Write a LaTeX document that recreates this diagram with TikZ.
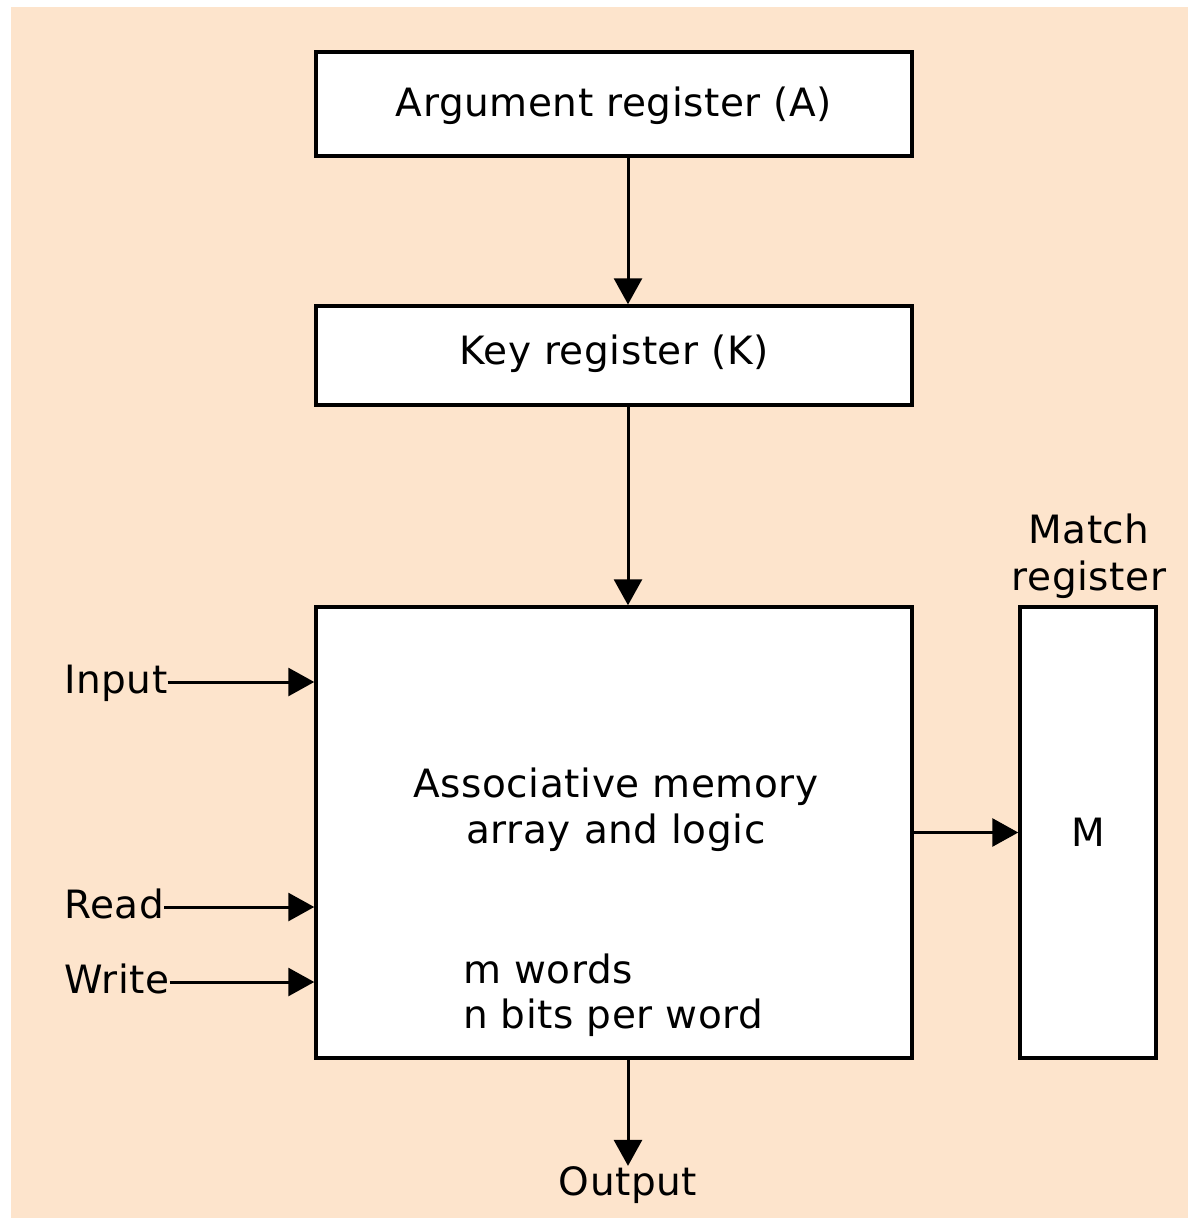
\documentclass[tikz,border=0pt]{standalone}
\usepackage{fontspec}
\setmainfont[LetterSpace=1.5]{DejaVu Sans}
\usetikzlibrary{arrows.meta}
\definecolor{peach}{RGB}{253,228,204}
\begin{document}
\begin{tikzpicture}[x=1pt,y=-1pt,
  every node/.style={inner sep=0pt, font=\fontsize{39}{47}\selectfont},
  box/.style={draw, line width=3.5pt, fill=white, minimum width=596pt},
  lbl/.style={anchor=base},
  arr/.style={line width=3pt, -{Triangle[length=26pt,width=28pt]}}]
  % page and background panel
  \useasboundingbox (0,0) rectangle (1192,1218);
  \fill[peach] (11,7) rectangle (1188,1218);

  % registers and memory array
  \node[box, minimum height=104pt] (arg) at (614,104) {};
  \node[lbl] (argt) at (614,116) {Argument register (A)};
  \node[box, minimum height=99pt] (key) at (614,355.5) {};
  \node[lbl] (keyt) at (614,364) {Key register (K)};
  \node[box, minimum height=451pt] (mem) at (614,832.5) {};
  \node[box, minimum width=136pt, minimum height=451pt] (match) at (1088,832.5) {};
  \node (mt) at (1088,832) {M};

  % text inside the memory array
  \node[lbl] (am1) at (616,797) {Associative memory};
  \node[lbl] (am2) at (616,843) {array and logic};
  \node[lbl, anchor=base west] (mw) at (463,983) {m words};
  \node[lbl, anchor=base west] (nb) at (463,1028) {n bits per word};

  % match register caption
  \node[lbl] (mc1) at (1089,543) {Match};
  \node[lbl] (mc2) at (1089,590) {register};

  % control inputs
  \node[lbl, anchor=base west] (inp) at (64,693) {Input};
  \node[lbl, anchor=base west] (rd) at (64,918) {Read};
  \node[lbl, anchor=base west] (wr) at (64,993) {Write};
  \node[lbl] (outp) at (628,1195) {Output};

  % data paths
  \draw[arr] ([xshift=14pt]arg.south) -- ([xshift=14pt]key.north);
  \draw[arr] ([xshift=14pt]key.south) -- ([xshift=14pt]mem.north);
  \draw[arr] ([xshift=14pt]mem.south) -- (outp.north);
  \draw[arr] (mem.east) -- (match.west);
  \draw[arr] (inp.east |- 0,682) -- (mem.west |- 0,682);
  \draw[arr] (rd.east |- 0,907) -- (mem.west |- 0,907);
  \draw[arr] (wr.east |- 0,982) -- (mem.west |- 0,982);
\end{tikzpicture}
\end{document}
